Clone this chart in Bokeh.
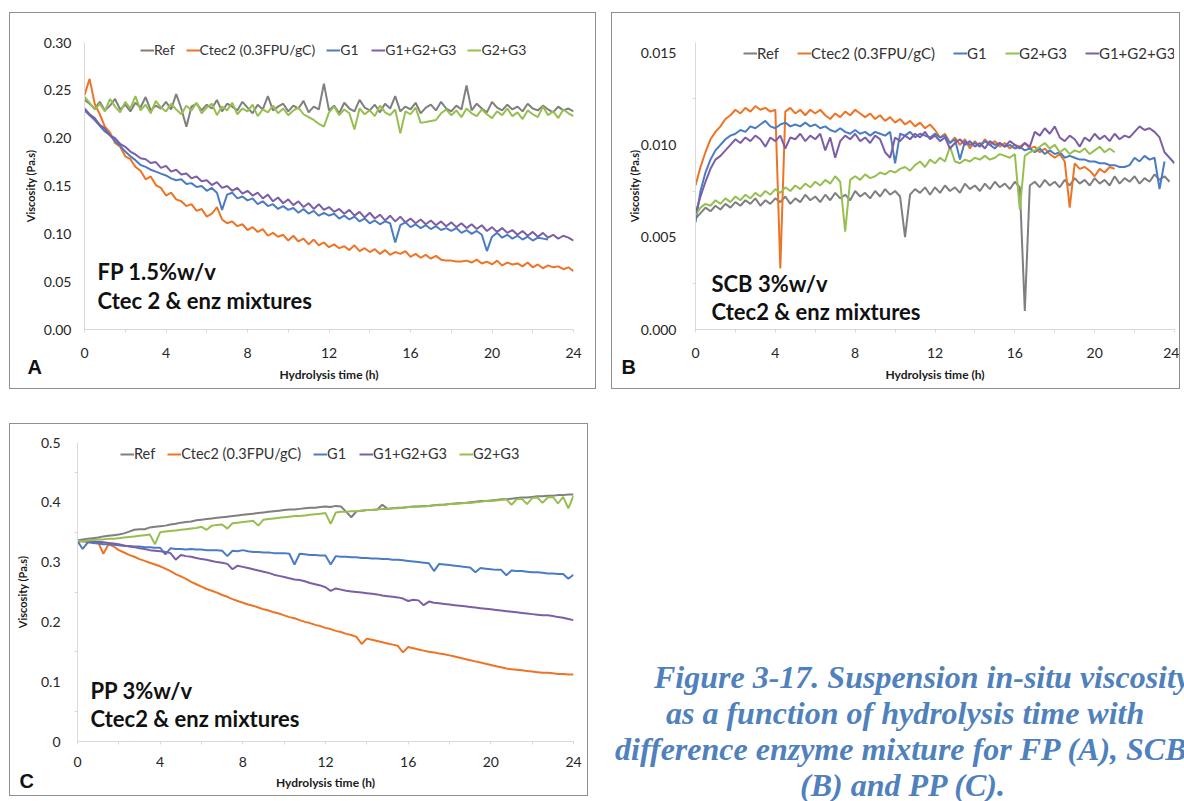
from bokeh.plotting import figure
from bokeh.models import Range1d, FixedTicker, Label, Div, Spacer, NumeralTickFormatter, Title
from bokeh.layouts import row, column
from bokeh.embed import file_html
from bokeh.resources import INLINE

# ---------------- data ----------------
HOURS = [q / 4 for q in range(97)]          # sampling grid 0 .. 24 h, every 15 min
X_TICKS = [0, 4, 8, 12, 16, 20, 24]
X_MINOR = [2, 6, 10, 14, 18, 22]

SERIES_A = ["Ref", "Ctec2 (0.3FPU/gC)", "G1", "G1+G2+G3", "G2+G3"]
SERIES_B = ["Ref", "Ctec2 (0.3FPU/gC)", "G1", "G2+G3", "G1+G2+G3"]
SERIES_C = ["Ref", "Ctec2 (0.3FPU/gC)", "G1", "G1+G2+G3", "G2+G3"]

# Panel A  FP 1.5 % w/v  (Pa.s)
A_REF = [0.240, 0.236, 0.231, 0.238, 0.229, 0.234, 0.241, 0.230, 0.235, 0.228, 0.237, 0.232, 0.243, 0.229, 0.234, 0.231, 0.238, 0.230, 0.246, 0.231, 0.212, 0.233, 0.236, 0.229,
         0.235, 0.231, 0.240, 0.228, 0.236, 0.233, 0.229, 0.238, 0.232, 0.226, 0.235, 0.230, 0.244, 0.229, 0.233, 0.236, 0.228, 0.234, 0.231, 0.239, 0.227, 0.233, 0.230, 0.257,
         0.229, 0.234, 0.226, 0.237, 0.231, 0.228, 0.240, 0.232, 0.229, 0.235, 0.227, 0.236, 0.231, 0.244, 0.228, 0.233, 0.230, 0.237, 0.226, 0.232, 0.235, 0.229, 0.238, 0.231,
         0.228, 0.234, 0.230, 0.255, 0.229, 0.236, 0.231, 0.227, 0.238, 0.232, 0.229, 0.235, 0.230, 0.233, 0.228, 0.236, 0.231, 0.229, 0.234, 0.230, 0.227, 0.233, 0.229, 0.231, 0.228]
A_CTEC2 = [0.245, 0.262, 0.236, 0.225, 0.212, 0.206, 0.195, 0.191, 0.181, 0.178, 0.170, 0.166, 0.157, 0.160, 0.151, 0.148, 0.140, 0.143, 0.136, 0.134, 0.129, 0.131, 0.124, 0.126,
           0.118, 0.121, 0.128, 0.115, 0.111, 0.113, 0.108, 0.110, 0.104, 0.107, 0.102, 0.105, 0.098, 0.101, 0.097, 0.099, 0.093, 0.098, 0.092, 0.095, 0.089, 0.094, 0.088, 0.091,
           0.086, 0.089, 0.085, 0.087, 0.083, 0.088, 0.082, 0.085, 0.081, 0.084, 0.079, 0.083, 0.078, 0.081, 0.079, 0.082, 0.076, 0.079, 0.075, 0.078, 0.074, 0.077, 0.073, 0.072,
           0.072, 0.071, 0.071, 0.072, 0.070, 0.073, 0.069, 0.071, 0.068, 0.072, 0.067, 0.070, 0.068, 0.069, 0.066, 0.070, 0.065, 0.068, 0.064, 0.067, 0.065, 0.066, 0.063, 0.065, 0.061]
A_G1 = [0.229, 0.224, 0.219, 0.213, 0.207, 0.203, 0.197, 0.192, 0.186, 0.181, 0.177, 0.172, 0.170, 0.167, 0.165, 0.163, 0.161, 0.158, 0.156, 0.157, 0.152, 0.153, 0.149, 0.150,
        0.145, 0.148, 0.143, 0.125, 0.141, 0.143, 0.137, 0.139, 0.135, 0.137, 0.131, 0.134, 0.129, 0.131, 0.126, 0.129, 0.125, 0.127, 0.122, 0.126, 0.121, 0.124, 0.119, 0.122,
        0.119, 0.121, 0.116, 0.119, 0.115, 0.118, 0.113, 0.116, 0.111, 0.114, 0.110, 0.113, 0.111, 0.091, 0.109, 0.112, 0.107, 0.110, 0.106, 0.109, 0.105, 0.108, 0.104, 0.106,
        0.103, 0.106, 0.101, 0.104, 0.100, 0.103, 0.099, 0.082, 0.097, 0.101, 0.096, 0.099, 0.095, 0.098, 0.094, 0.097, 0.093, 0.096, 0.095, 0.094]
A_G123 = [0.231, 0.225, 0.221, 0.214, 0.210, 0.203, 0.200, 0.194, 0.191, 0.186, 0.183, 0.179, 0.178, 0.174, 0.175, 0.169, 0.171, 0.165, 0.167, 0.162, 0.163, 0.158, 0.160, 0.155,
          0.156, 0.151, 0.154, 0.148, 0.150, 0.145, 0.148, 0.142, 0.145, 0.140, 0.143, 0.137, 0.141, 0.134, 0.138, 0.132, 0.136, 0.130, 0.134, 0.128, 0.132, 0.126, 0.131, 0.125,
          0.128, 0.123, 0.126, 0.121, 0.125, 0.119, 0.123, 0.117, 0.122, 0.116, 0.120, 0.114, 0.119, 0.113, 0.118, 0.112, 0.116, 0.111, 0.115, 0.110, 0.114, 0.109, 0.113, 0.108,
          0.112, 0.107, 0.111, 0.106, 0.110, 0.105, 0.109, 0.103, 0.107, 0.102, 0.106, 0.101, 0.104, 0.099, 0.103, 0.098, 0.102, 0.097, 0.101, 0.096, 0.099, 0.095, 0.098, 0.096, 0.093]
A_G23 = [0.243, 0.237, 0.230, 0.236, 0.228, 0.241, 0.233, 0.227, 0.238, 0.231, 0.244, 0.229, 0.235, 0.226, 0.239, 0.232, 0.228, 0.236, 0.230, 0.225, 0.234, 0.229, 0.237, 0.226,
         0.232, 0.236, 0.224, 0.233, 0.229, 0.237, 0.225, 0.231, 0.228, 0.235, 0.223, 0.230, 0.227, 0.234, 0.226, 0.231, 0.224, 0.229, 0.232, 0.225, 0.222, 0.219, 0.215, 0.212,
         0.227, 0.233, 0.224, 0.230, 0.226, 0.209, 0.231, 0.225, 0.229, 0.223, 0.234, 0.227, 0.224, 0.230, 0.205, 0.228, 0.225, 0.232, 0.216, 0.217, 0.218, 0.219, 0.226, 0.230,
         0.224, 0.229, 0.222, 0.231, 0.226, 0.223, 0.230, 0.225, 0.221, 0.228, 0.224, 0.231, 0.223, 0.227, 0.220, 0.229, 0.225, 0.222, 0.233, 0.224, 0.228, 0.221, 0.230, 0.226, 0.223]

# Panel B  SCB 3 % w/v  (Pa.s)
B_REF = [0.0060, 0.0063, 0.0066, 0.0064, 0.0067, 0.0065, 0.0068, 0.0066, 0.0069, 0.0067, 0.0070, 0.0068, 0.0071, 0.0067, 0.0070, 0.0068, 0.0071, 0.0069, 0.0072, 0.0068, 0.0071, 0.0069, 0.0073, 0.0070,
         0.0072, 0.0069, 0.0073, 0.0070, 0.0074, 0.0071, 0.0073, 0.0070, 0.0075, 0.0072, 0.0074, 0.0071, 0.0075, 0.0072, 0.0076, 0.0073, 0.0075, 0.0072, 0.0050, 0.0073, 0.0076, 0.0074, 0.0077, 0.0073,
         0.0077, 0.0074, 0.0078, 0.0075, 0.0077, 0.0074, 0.0079, 0.0076, 0.0078, 0.0075, 0.0079, 0.0076, 0.0080, 0.0077, 0.0079, 0.0076, 0.0080, 0.0077, 0.0010, 0.0078, 0.0080, 0.0077, 0.0081, 0.0078,
         0.0080, 0.0077, 0.0081, 0.0078, 0.0082, 0.0079, 0.0081, 0.0078, 0.0082, 0.0079, 0.0081, 0.0078, 0.0083, 0.0079, 0.0082, 0.0080, 0.0083, 0.0079, 0.0082, 0.0080, 0.0084, 0.0081, 0.0083, 0.0080]
B_CTEC2 = [0.0078, 0.0088, 0.0096, 0.0103, 0.0107, 0.0110, 0.0114, 0.0116, 0.0119, 0.0117, 0.0120, 0.0118, 0.0121, 0.0119, 0.0120, 0.0118, 0.0119, 0.0033, 0.0118, 0.0120, 0.0117, 0.0119, 0.0116, 0.0119,
           0.0117, 0.0119, 0.0116, 0.0114, 0.0117, 0.0115, 0.0118, 0.0116, 0.0119, 0.0117, 0.0115, 0.0117, 0.0114, 0.0116, 0.0113, 0.0115, 0.0112, 0.0114, 0.0111, 0.0113, 0.0110, 0.0112, 0.0109, 0.0111,
           0.0108, 0.0104, 0.0106, 0.0101, 0.0104, 0.0100, 0.0103, 0.0098, 0.0102, 0.0099, 0.0103, 0.0100, 0.0102, 0.0099, 0.0101, 0.0098, 0.0100, 0.0099, 0.0101, 0.0098, 0.0099, 0.0096, 0.0098, 0.0095,
           0.0093, 0.0095, 0.0091, 0.0066, 0.0090, 0.0087, 0.0088, 0.0086, 0.0083, 0.0087, 0.0085, 0.0088, 0.0087]
B_G1 = [0.0058, 0.0075, 0.0085, 0.0092, 0.0097, 0.0100, 0.0103, 0.0105, 0.0106, 0.0108, 0.0107, 0.0110, 0.0109, 0.0111, 0.0113, 0.0110, 0.0109, 0.0111, 0.0112, 0.0110, 0.0111, 0.0110, 0.0112, 0.0110,
        0.0111, 0.0109, 0.0110, 0.0108, 0.0107, 0.0109, 0.0107, 0.0106, 0.0108, 0.0106, 0.0107, 0.0105, 0.0107, 0.0106, 0.0105, 0.0107, 0.0090, 0.0106, 0.0105, 0.0107, 0.0104, 0.0106, 0.0105, 0.0104,
        0.0106, 0.0104, 0.0105, 0.0101, 0.0103, 0.0092, 0.0102, 0.0100, 0.0101, 0.0099, 0.0102, 0.0100, 0.0098, 0.0101, 0.0099, 0.0100, 0.0098, 0.0099, 0.0097, 0.0098, 0.0096, 0.0098, 0.0095, 0.0097,
        0.0095, 0.0096, 0.0093, 0.0094, 0.0093, 0.0092, 0.0092, 0.0091, 0.0091, 0.0090, 0.0090, 0.0089, 0.0089, 0.0088, 0.0088, 0.0089, 0.0093, 0.0091, 0.0094, 0.0092, 0.0093, 0.0076, 0.0091]
B_G23 = [0.0062, 0.0066, 0.0068, 0.0067, 0.0070, 0.0068, 0.0071, 0.0069, 0.0072, 0.0070, 0.0073, 0.0071, 0.0074, 0.0072, 0.0075, 0.0073, 0.0076, 0.0074, 0.0077, 0.0075, 0.0078, 0.0076, 0.0079, 0.0077,
         0.0080, 0.0078, 0.0081, 0.0079, 0.0083, 0.0080, 0.0053, 0.0081, 0.0083, 0.0081, 0.0084, 0.0082, 0.0083, 0.0085, 0.0084, 0.0086, 0.0085, 0.0087, 0.0088, 0.0086, 0.0089, 0.0091, 0.0088, 0.0092,
         0.0090, 0.0093, 0.0091, 0.0099, 0.0091, 0.0090, 0.0092, 0.0091, 0.0093, 0.0092, 0.0094, 0.0092, 0.0093, 0.0095, 0.0094, 0.0093, 0.0095, 0.0065, 0.0094, 0.0096, 0.0097, 0.0099, 0.0101, 0.0098,
         0.0100, 0.0096, 0.0098, 0.0095, 0.0097, 0.0096, 0.0098, 0.0095, 0.0097, 0.0099, 0.0096, 0.0098, 0.0096]
B_G123 = [0.0063, 0.0072, 0.0080, 0.0087, 0.0092, 0.0094, 0.0097, 0.0100, 0.0103, 0.0101, 0.0104, 0.0102, 0.0105, 0.0103, 0.0099, 0.0104, 0.0102, 0.0105, 0.0098, 0.0104, 0.0103, 0.0106, 0.0102, 0.0105,
          0.0103, 0.0106, 0.0097, 0.0104, 0.0093, 0.0102, 0.0105, 0.0103, 0.0106, 0.0102, 0.0104, 0.0101, 0.0105, 0.0103, 0.0096, 0.0093, 0.0104, 0.0102, 0.0105, 0.0103, 0.0106, 0.0104, 0.0107, 0.0103,
          0.0105, 0.0102, 0.0104, 0.0098, 0.0101, 0.0103, 0.0100, 0.0102, 0.0099, 0.0101, 0.0098, 0.0102, 0.0100, 0.0101, 0.0099, 0.0102, 0.0100, 0.0098, 0.0101, 0.0099, 0.0107, 0.0105, 0.0109, 0.0106,
          0.0110, 0.0104, 0.0102, 0.0105, 0.0103, 0.0099, 0.0104, 0.0102, 0.0106, 0.0103, 0.0105, 0.0102, 0.0106, 0.0103, 0.0105, 0.0104, 0.0107, 0.0110, 0.0108, 0.0109, 0.0107, 0.0104, 0.0096, 0.0093, 0.0090]

# Panel C  PP 3 % w/v  (Pa.s)
C_REF = [0.336, 0.338, 0.339, 0.340, 0.341, 0.343, 0.344, 0.345, 0.346, 0.348, 0.351, 0.354, 0.355, 0.355, 0.358, 0.359, 0.360, 0.361, 0.363, 0.364, 0.366, 0.367, 0.368, 0.370,
         0.371, 0.372, 0.373, 0.374, 0.375, 0.376, 0.377, 0.378, 0.379, 0.380, 0.381, 0.382, 0.383, 0.384, 0.385, 0.386, 0.387, 0.388, 0.388, 0.389, 0.390, 0.391, 0.391, 0.392,
         0.393, 0.392, 0.394, 0.393, 0.384, 0.375, 0.385, 0.386, 0.387, 0.387, 0.388, 0.396, 0.389, 0.390, 0.391, 0.391, 0.392, 0.393, 0.393, 0.394, 0.394, 0.395, 0.396, 0.396,
         0.397, 0.398, 0.399, 0.399, 0.400, 0.401, 0.402, 0.402, 0.403, 0.404, 0.405, 0.405, 0.406, 0.407, 0.408, 0.408, 0.409, 0.410, 0.410, 0.411, 0.411, 0.412, 0.412, 0.413, 0.413]
C_CTEC2 = [0.335, 0.335, 0.334, 0.334, 0.333, 0.314, 0.330, 0.326, 0.320, 0.316, 0.312, 0.309, 0.305, 0.302, 0.299, 0.296, 0.293, 0.289, 0.285, 0.280, 0.276, 0.272, 0.267, 0.263,
           0.259, 0.255, 0.252, 0.249, 0.245, 0.242, 0.238, 0.235, 0.232, 0.229, 0.227, 0.224, 0.221, 0.219, 0.216, 0.214, 0.211, 0.208, 0.206, 0.203, 0.200, 0.198, 0.195, 0.193,
           0.190, 0.188, 0.185, 0.183, 0.180, 0.178, 0.175, 0.163, 0.172, 0.170, 0.168, 0.166, 0.164, 0.162, 0.160, 0.149, 0.158, 0.156, 0.154, 0.152, 0.150, 0.149, 0.147, 0.146,
           0.144, 0.142, 0.140, 0.138, 0.136, 0.134, 0.132, 0.130, 0.128, 0.126, 0.124, 0.122, 0.121, 0.120, 0.119, 0.118, 0.117, 0.116, 0.115, 0.115, 0.114, 0.113, 0.113, 0.112, 0.112]
C_G1 = [0.335, 0.322, 0.333, 0.332, 0.331, 0.330, 0.330, 0.329, 0.328, 0.327, 0.327, 0.326, 0.326, 0.325, 0.325, 0.324, 0.324, 0.313, 0.323, 0.322, 0.322, 0.321, 0.322, 0.321,
        0.321, 0.320, 0.320, 0.320, 0.319, 0.310, 0.319, 0.318, 0.320, 0.318, 0.317, 0.317, 0.316, 0.316, 0.315, 0.315, 0.315, 0.314, 0.296, 0.314, 0.313, 0.312, 0.312, 0.311,
        0.311, 0.296, 0.310, 0.309, 0.309, 0.308, 0.308, 0.307, 0.307, 0.306, 0.306, 0.305, 0.305, 0.304, 0.304, 0.303, 0.302, 0.301, 0.300, 0.299, 0.298, 0.285, 0.297, 0.296,
        0.295, 0.294, 0.293, 0.292, 0.291, 0.283, 0.290, 0.289, 0.288, 0.287, 0.287, 0.278, 0.286, 0.285, 0.285, 0.284, 0.283, 0.283, 0.282, 0.281, 0.281, 0.280, 0.280, 0.272, 0.279]
C_G123 = [0.335, 0.335, 0.335, 0.334, 0.334, 0.333, 0.332, 0.331, 0.330, 0.328, 0.326, 0.325, 0.323, 0.322, 0.320, 0.319, 0.318, 0.317, 0.315, 0.304, 0.312, 0.310, 0.309, 0.307,
          0.305, 0.304, 0.302, 0.300, 0.299, 0.297, 0.288, 0.294, 0.292, 0.290, 0.288, 0.286, 0.284, 0.282, 0.279, 0.277, 0.275, 0.273, 0.271, 0.270, 0.268, 0.265, 0.263, 0.261,
          0.258, 0.252, 0.256, 0.254, 0.252, 0.251, 0.250, 0.249, 0.248, 0.247, 0.246, 0.244, 0.243, 0.242, 0.241, 0.239, 0.235, 0.237, 0.236, 0.228, 0.234, 0.232, 0.231, 0.230,
          0.229, 0.228, 0.227, 0.226, 0.225, 0.224, 0.223, 0.222, 0.221, 0.220, 0.219, 0.218, 0.217, 0.216, 0.215, 0.214, 0.213, 0.212, 0.211, 0.211, 0.210, 0.208, 0.207, 0.205, 0.203]
C_G23 = [0.336, 0.335, 0.336, 0.337, 0.338, 0.338, 0.339, 0.339, 0.340, 0.341, 0.342, 0.343, 0.344, 0.345, 0.346, 0.330, 0.350, 0.351, 0.352, 0.353, 0.354, 0.355, 0.356, 0.357,
         0.359, 0.354, 0.361, 0.362, 0.363, 0.356, 0.365, 0.366, 0.367, 0.368, 0.369, 0.361, 0.371, 0.372, 0.373, 0.374, 0.375, 0.376, 0.377, 0.377, 0.378, 0.379, 0.380, 0.381,
         0.382, 0.364, 0.383, 0.384, 0.384, 0.385, 0.385, 0.386, 0.387, 0.387, 0.388, 0.389, 0.389, 0.390, 0.390, 0.391, 0.392, 0.392, 0.393, 0.393, 0.394, 0.395, 0.395, 0.396,
         0.397, 0.397, 0.398, 0.399, 0.399, 0.400, 0.401, 0.402, 0.402, 0.403, 0.404, 0.405, 0.396, 0.405, 0.406, 0.397, 0.407, 0.408, 0.399, 0.408, 0.409, 0.398, 0.409, 0.390, 0.411]

PANEL_NOTES = {
    "A": ["FP 1.5%w/v", "Ctec 2 & enz mixtures"],
    "B": ["SCB 3%w/v", "Ctec2 & enz mixtures"],
    "C": ["PP 3%w/v", "Ctec2 & enz mixtures"],
}
CAPTION_LINES = ["Figure 3-17. Suspension in-situ viscosity",
                 "as a function of hydrolysis time with",
                 "difference enzyme mixture for FP (A), SCB",
                 "(B) and PP (C)."]

COLORS = {"Ref": "#7f7f7f", "Ctec2 (0.3FPU/gC)": "#ee7425", "G1": "#4a7cc4",
          "G1+G2+G3": "#7c5ea6", "G2+G3": "#97bf50"}

FONT = "Lato"


def make_panel(width, height, borders, ymax, yticks, yminor, fmt, xstand, ystand):
    p = figure(width=width, height=height, x_range=Range1d(0, 24), y_range=Range1d(0, ymax),
               output_backend="svg", toolbar_location=None,
               min_border_left=borders[0], min_border_right=borders[1],
               min_border_top=borders[2], min_border_bottom=borders[3])
    p.styles = {"border": "1px solid #8f8f8f"}
    p.background_fill_color = "white"
    p.border_fill_color = "white"
    p.outline_line_color = None
    p.xgrid.visible = False
    p.ygrid.visible = False
    p.xaxis.ticker = FixedTicker(ticks=X_TICKS, minor_ticks=X_MINOR)
    p.yaxis.ticker = FixedTicker(ticks=yticks, minor_ticks=yminor)
    p.yaxis.formatter = NumeralTickFormatter(format=fmt)
    for ax in (p.xaxis[0], p.yaxis[0]):
        ax.axis_line_color = "#d9d9d9"
        ax.major_tick_line_color = "#d9d9d9"
        ax.minor_tick_line_color = "#d9d9d9"
        ax.major_label_text_font = FONT
        ax.major_label_text_font_size = "14px"
        ax.major_label_text_color = "#262626"
        ax.axis_label_text_font = FONT
        ax.axis_label_text_font_style = "bold"
        ax.axis_label_text_color = "#1a1a1a"
    p.xaxis.major_tick_in = 0
    p.xaxis.major_tick_out = 3
    p.xaxis.minor_tick_in = 0
    p.xaxis.minor_tick_out = 3
    p.xaxis.major_label_standoff = xstand[0]
    p.xaxis.axis_label = "Hydrolysis time (h)"
    p.xaxis.axis_label_text_font_size = "12px"
    p.xaxis.axis_label_standoff = xstand[1]
    p.yaxis.major_tick_in = 0
    p.yaxis.major_tick_out = 0
    p.yaxis.minor_tick_in = 0
    p.yaxis.minor_tick_out = 3
    p.yaxis.major_label_standoff = ystand[0]
    p.yaxis.axis_label = "Viscosity (Pa.s)"
    p.yaxis.axis_label_text_font_size = "11px"
    p.yaxis.axis_label_standoff = ystand[1]
    return p


def add_lines(p, names, values, loc, spacing, font_size):
    for name, vals in zip(names, values):
        p.line(HOURS[:len(vals)], vals, line_color=COLORS[name], line_width=2, legend_label=name)
    lg = p.legend[0]
    lg.orientation = "horizontal"
    lg.location = loc
    lg.background_fill_alpha = 0
    lg.border_line_alpha = 0
    lg.padding = 0
    lg.margin = 0
    lg.spacing = spacing
    lg.label_standoff = 0
    lg.glyph_width = 14
    lg.glyph_height = 14
    lg.label_height = 14
    lg.label_text_font = FONT
    lg.label_text_font_size = font_size
    lg.label_text_color = "#333333"


def add_notes(p, letter, letter_dx, letter_standoff, note_x, note_y, gap):
    for i, txt in enumerate(PANEL_NOTES[letter]):
        p.add_layout(Label(x=note_x, y=note_y - gap * i, x_units="screen", y_units="screen",
                           text=txt, text_font=FONT, text_font_size="22px", text_font_style="bold",
                           text_color="#111111", text_baseline="middle"))
    p.add_layout(Title(text=letter, align="left", vertical_align="top", offset=letter_dx,
                       standoff=letter_standoff, text_font="Liberation Sans", text_font_size="20px",
                       text_font_style="bold", text_color="#111111"), "below")


# Panel A
pA = make_panel(587, 377, (74, 24, 29, 61), 0.30,
                [0, 0.05, 0.10, 0.15, 0.20, 0.25, 0.30], [], "0.00", (15, 6), (13, 4))
add_lines(pA, SERIES_A, [A_REF, A_CTEC2, A_G1, A_G123, A_G23], (56, 271), 11, "14px")
add_notes(pA, "A", -57, -58, 13, 58, 29)

# Panel B  (frame shares the row's top border; 0.015 sits 10 px below the frame top)
B_FRAME_PX = 287
B_TOP_PX = 277
pB = make_panel(569, 377, (83, 7, 29, 61), 0.015 * B_FRAME_PX / B_TOP_PX,
                [0, 0.005, 0.010, 0.015], [0.0025, 0.0075, 0.0125], "0.000", (15, 6), (16, -3))
add_lines(pB, SERIES_B, [B_REF, B_CTEC2, B_G1, B_G23, B_G123], (48, 267), 18, "15px")
add_notes(pB, "B", -74, -58, 16, 46, 28)

# Panel C
pC = make_panel(579, 373, (67, 16, 18, 56), 0.5,
                [0, 0.1, 0.2, 0.3, 0.4, 0.5], [0.05, 0.15, 0.25, 0.35, 0.45], "0.[0]", (12, 5), (14, 9))
add_lines(pC, SERIES_C, [C_REF, C_CTEC2, C_G1, C_G123, C_G23], (43, 279), 12, "14.5px")
add_notes(pC, "C", -58, -46, 13, 51, 28)

# Caption
offsets = [55, 67, 16, 201]
lines_html = "".join(
    f'<div style="padding-left:{o}px;height:36px;line-height:36px;white-space:nowrap;">{t}</div>'
    for o, t in zip(offsets, CAPTION_LINES))
caption = Div(text=f'<div style="padding-top:231px;font-family:\'Liberation Serif\',serif;'
                   f'font-style:italic;font-weight:bold;font-size:32px;color:#4f81bd;">{lines_html}</div>',
              width=588, height=375, styles={"overflow": "hidden"})

layout = column(
    Spacer(height=12),
    row(Spacer(width=9), pA, Spacer(width=15), pB),
    Spacer(height=34),
    row(Spacer(width=9), pC, Spacer(width=6), caption),
)

open("out.html", "w").write(file_html(layout, INLINE))
